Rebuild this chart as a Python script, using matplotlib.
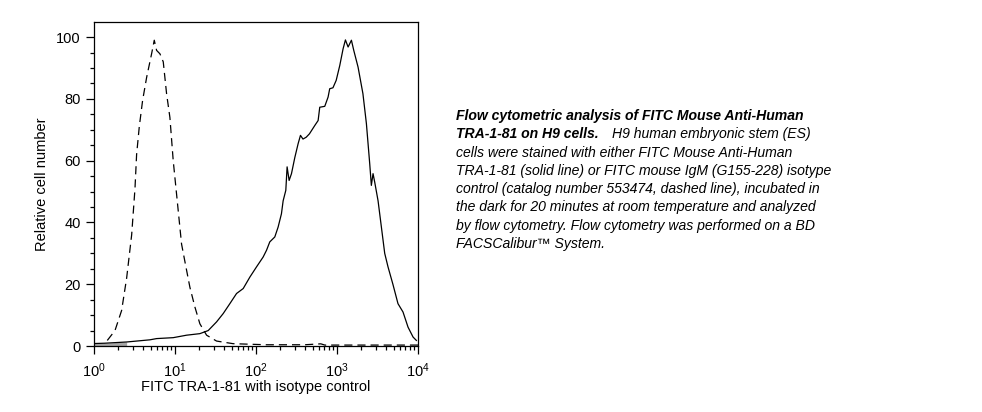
import numpy as np
import matplotlib
matplotlib.use("Agg")
import matplotlib.pyplot as plt
from matplotlib.ticker import LogLocator, MultipleLocator, NullFormatter

plt.rcParams['font.family'] = ['Liberation Sans', 'DejaVu Sans']
plt.rcParams['mathtext.fontset'] = 'custom'
plt.rcParams['mathtext.rm'] = 'Liberation Sans'
plt.rcParams['mathtext.it'] = 'Liberation Sans:italic'

# isotype control (dashed), x in log10 units, y relative cell number
iso_logx = [0.164, 0.259, 0.341, 0.403, 0.465, 0.506, 0.526, 0.559, 0.600, 0.650,
            0.711, 0.744, 0.773, 0.814, 0.855, 0.896, 0.937, 0.978, 1.020, 1.081,
            1.135, 1.184, 1.246, 1.307, 1.390, 1.513, 1.718, 2.13, 2.6, 2.8, 2.85,
            3.0, 3.5, 4.0]
iso_y = [1.8, 5.0, 11.5, 22.0, 36.0, 51.0, 62.0, 71.0, 79.5, 87.0,
         94.6, 99.0, 95.7, 94.6, 92.0, 81.7, 74.0, 60.0, 49.0, 33.0,
         25.6, 19.0, 12.6, 7.2, 3.5, 1.6, 0.75, 0.4, 0.4, 0.7, 0.3,
         0.3, 0.3, 0.3]

# TRA-1-81 stained (solid)
tra_logx = [0.0, 0.13, 0.403, 0.69, 0.773, 0.978, 1.143, 1.307, 1.41, 1.513,
            1.595, 1.677, 1.760, 1.842, 1.924, 2.006, 2.088, 2.13, 2.17, 2.232,
            2.273, 2.314, 2.335, 2.368, 2.384, 2.409, 2.438, 2.479, 2.52, 2.549,
            2.58, 2.62, 2.66, 2.726, 2.767, 2.787, 2.849, 2.89, 2.91, 2.95,
            2.99, 3.034, 3.075, 3.104, 3.137, 3.178, 3.207, 3.26, 3.32, 3.363,
            3.404, 3.424, 3.445, 3.466, 3.507, 3.548, 3.589, 3.63, 3.69, 3.753,
            3.815, 3.877, 3.939, 3.98]
tra_y = [0.8, 0.9, 1.3, 2.0, 2.4, 2.7, 3.5, 4.0, 5.0, 7.8,
         10.5, 13.7, 17.0, 18.6, 22.3, 25.6, 28.8, 31.0, 33.7, 35.3,
         38.5, 42.8, 47.0, 50.4, 58.0, 53.6, 55.8, 61.0, 65.5, 68.2,
         67.0, 67.6, 68.7, 71.4, 73.0, 77.3, 77.6, 80.6, 83.3, 83.6,
         86.0, 90.8, 96.2, 99.1, 96.8, 99.0, 95.7, 90.3, 81.7, 72.0,
         59.0, 52.0, 55.8, 53.0, 47.0, 38.5, 30.0, 25.6, 20.0, 13.7,
         11.0, 6.1, 2.9, 1.8]

caption_lines = [
    "H9 human embryonic stem (ES)",
    "cells were stained with either FITC Mouse Anti-Human",
    "TRA-1-81 (solid line) or FITC mouse IgM (G155-228) isotype",
    "control (catalog number 553474, dashed line), incubated in",
    "the dark for 20 minutes at room temperature and analyzed",
    "by flow cytometry. Flow cytometry was performed on a BD",
    "FACSCalibur\u2122 System.",
]

fig = plt.figure(figsize=(9.82, 4.12), dpi=100)
ax = fig.add_axes([94 / 982, 66 / 412, 324 / 982, 324 / 412])

tra_x = 10 ** np.array(tra_logx)
# low-end pile-up shown as a small grey block
ax.fill_between(tra_x[:3], 0, tra_y[:3], color='0.65', lw=0)
ax.plot(tra_x, tra_y, color='black', lw=0.9)
iso_line, = ax.plot(10 ** np.array(iso_logx), iso_y, color='black', lw=0.9)
iso_line.set_dashes((6.5, 4))

ax.set_xscale('log')
ax.set_xlim(1, 1e4)
ax.set_ylim(0, 104.9)
ax.yaxis.set_major_locator(MultipleLocator(20))
ax.yaxis.set_minor_locator(MultipleLocator(5))
ax.xaxis.set_minor_locator(LogLocator(base=10, subs=np.arange(2, 10)))
ax.xaxis.set_minor_formatter(NullFormatter())

for side in ax.spines.values():
    side.set_linewidth(0.9)
ax.tick_params(which='major', length=6, width=0.9, labelsize=10.5, direction='out')
ax.tick_params(which='minor', length=3, width=0.9, direction='out')
ax.tick_params(axis='x', which='major', pad=5)

ax.set_xlabel('FITC TRA-1-81 with isotype control', fontsize=10.5, labelpad=0)
ax.set_ylabel('Relative cell number', fontsize=10.5, labelpad=5)

# caption on the right
x0 = 456 / 982
line_h = 18.3 / 412
y0 = 1 - 116 / 412
fs = 10.1
fig.text(x0, y0, "Flow cytometric analysis of FITC Mouse Anti-Human",
         fontsize=fs, style='italic', weight='bold', va='center')
bold2 = fig.text(x0, y0 - line_h, "TRA-1-81 on H9 cells.",
                 fontsize=fs, style='italic', weight='bold', va='center')
fig.canvas.draw()
bb = bold2.get_window_extent(fig.canvas.get_renderer())
fig.text(bb.x1 / fig.bbox.width + 13 / 982, y0 - line_h, caption_lines[0],
         fontsize=fs, style='italic', va='center')
for i, line in enumerate(caption_lines[1:]):
    fig.text(x0, y0 - (i + 2) * line_h, line, fontsize=fs, style='italic', va='center')

fig.savefig('out.png', dpi=100)
